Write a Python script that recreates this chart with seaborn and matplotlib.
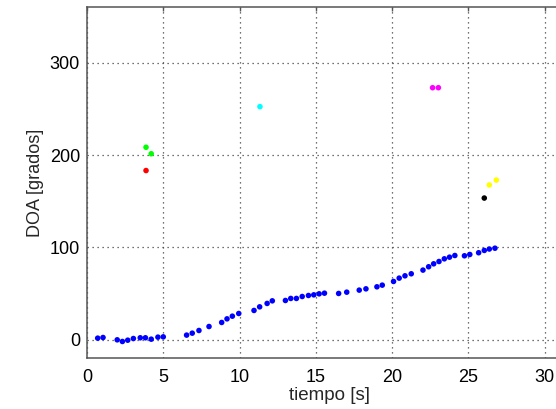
import pandas as pd
import matplotlib
matplotlib.use("Agg")
import matplotlib.pyplot as plt
import seaborn as sns

# Trayectoria principal (DOA estimado, fuente dominante)
t_principal = [0.70, 1.05, 1.98, 2.32, 2.67, 3.04, 3.49, 3.83, 4.21, 4.65, 5.00,
               6.53, 6.90, 7.34, 8.00, 8.83, 9.18, 9.53, 9.95, 10.95, 11.32,
               11.81, 12.15, 13.01, 13.36, 13.73, 14.11, 14.52, 14.87, 15.22,
               15.57, 16.50, 17.03, 17.85, 18.29, 19.01, 19.36, 20.10, 20.47,
               20.85, 21.26, 22.03, 22.40, 22.73, 23.08, 23.43, 23.77, 24.12,
               24.75, 25.10, 25.68, 26.05, 26.38, 26.75]
doa_principal = [1.8, 2.5, 0.0, -1.8, -0.4, 1.4, 2.2, 2.2, 0.7, 2.9, 3.2,
                 5.1, 7.2, 10.1, 14.4, 18.8, 22.7, 25.6, 28.5, 31.8, 35.7,
                 39.4, 42.2, 42.6, 44.8, 44.8, 46.9, 48.0, 48.7, 49.8,
                 50.5, 50.2, 51.6, 53.8, 55.2, 57.4, 59.2, 63.2, 66.8,
                 69.3, 71.5, 75.5, 79.1, 82.3, 84.8, 87.7, 89.5, 91.3,
                 91.0, 92.4, 94.3, 96.8, 98.3, 99.2]

# Detecciones aisladas
t_verde = [3.87, 4.21]
doa_verde = [208.5, 201.5]
t_rojo = [3.87]
doa_rojo = [183.3]
t_cian = [11.34]
doa_cian = [252.5]
t_magenta = [22.66, 23.04]
doa_magenta = [273.0, 273.0]
t_negro = [26.05]
doa_negro = [153.5]
t_amarillo = [26.38, 26.84]
doa_amarillo = [167.7, 173.0]

colores = {"principal": "#0000ff", "verde": "#00ff00", "rojo": "#ff0000",
           "cian": "#00ffff", "magenta": "#ff00ff", "negro": "#000000",
           "amarillo": "#ffff00"}

grupos = [("principal", t_principal, doa_principal), ("verde", t_verde, doa_verde),
          ("rojo", t_rojo, doa_rojo), ("cian", t_cian, doa_cian),
          ("magenta", t_magenta, doa_magenta), ("negro", t_negro, doa_negro),
          ("amarillo", t_amarillo, doa_amarillo)]
df = pd.concat([pd.DataFrame({"tiempo": t, "doa": d, "grupo": g}) for g, t, d in grupos],
               ignore_index=True)

sns.set_style("white")
plt.rcParams["font.family"] = ["Liberation Sans", "DejaVu Sans"]

fig = plt.figure(figsize=(5.56, 4.09), dpi=100)
# el eje sigue más allá del borde derecho (como en la figura original, recortada)
ax = fig.add_axes([0.1565, 0.124, 0.96, 0.858])

sns.scatterplot(data=df, x="tiempo", y="doa", hue="grupo", palette=colores,
                s=16, linewidth=0, legend=False, ax=ax, zorder=3)

ax.set_xlim(0, 35)
ax.set_ylim(-20, 360)
ax.set_xticks([0, 5, 10, 15, 20, 25, 30])
ax.set_yticks([0, 100, 200, 300])
ax.grid(True, linestyle=(0, (1, 3)), color="#444444", linewidth=0.9)
ax.set_axisbelow(True)

for sp in ax.spines.values():
    sp.set_color("#555555")
    sp.set_linewidth(1.1)
ax.tick_params(direction="in", length=3, width=1, color="#555555",
               top=True, right=True, labelsize=13, labelcolor="black")
ax.tick_params(axis="x", pad=8)
ax.tick_params(axis="y", pad=5)

ax.set_xlabel("tiempo [s]", fontsize=13.5)
ax.xaxis.set_label_coords(0.454, -0.083)
ax.set_ylabel("DOA [grados]", fontsize=13, labelpad=4)

fig.savefig("out.png", dpi=100)
